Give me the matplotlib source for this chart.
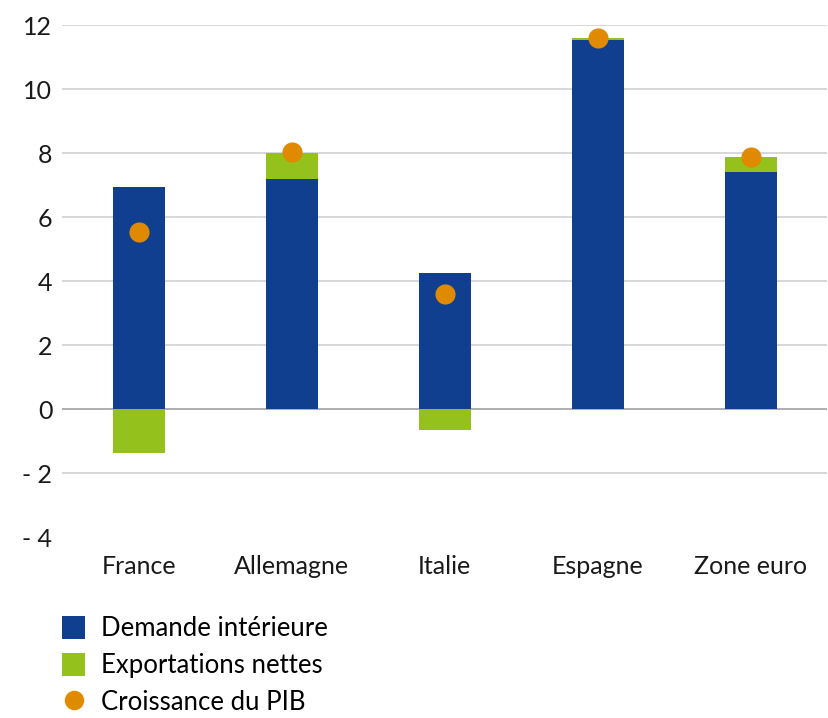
import matplotlib
matplotlib.use("Agg")
import matplotlib.pyplot as plt
from matplotlib.patches import Patch
from matplotlib.lines import Line2D

pays = ["France", "Allemagne", "Italie", "Espagne", "Zone euro"]
demande_interieure = [6.95, 7.2, 4.25, 11.52, 7.42]
exportations_nettes = [-1.38, 0.8, -0.66, 0.08, 0.46]
croissance_pib = [5.52, 8.02, 3.6, 11.6, 7.88]

yticks = [-4, -2, 0, 2, 4, 6, 8, 10, 12]

BLEU = "#103F8F"
VERT = "#95C11C"
ORANGE = "#E08A00"

plt.rcParams["font.family"] = ["Lato", "DejaVu Sans"]

fig = plt.figure(figsize=(8.29, 7.18), dpi=100)
ax = fig.add_axes([0.075, 0.252, 0.923, 0.713])

x = list(range(len(pays)))
w = 0.34
ax.bar(x, demande_interieure, width=w, color=BLEU, zorder=3)
bottoms = [d if e >= 0 else 0 for d, e in zip(demande_interieure, exportations_nettes)]
ax.bar(x, exportations_nettes, width=w, bottom=bottoms, color=VERT, zorder=3)
ax.scatter(x, croissance_pib, s=210, color=ORANGE, zorder=4, linewidths=0)

ax.set_xlim(-0.5, 4.5)
ax.set_ylim(-4, 12)
ax.set_yticks(yticks)
ax.set_yticklabels([f"- {abs(v)}" if v < 0 else str(v) for v in yticks])
ax.set_xticks(x)
ax.set_xticklabels(pays)

for v in yticks:
    if v == -4:
        continue
    ax.axhline(v, color="#A8A8A8" if v == 0 else "#D4D4D4", lw=1.3, zorder=1)

for s in ax.spines.values():
    s.set_visible(False)
ax.tick_params(axis="both", length=0, labelsize=18, colors="#1a1a1a")
ax.tick_params(axis="y", pad=7)
ax.tick_params(axis="x", pad=13)

handles = [
    Patch(facecolor=BLEU, edgecolor="none"),
    Patch(facecolor=VERT, edgecolor="none"),
    Line2D([], [], marker="o", ls="none", color=ORANGE, markersize=14, markeredgewidth=0),
]
labels = ["Demande intérieure", "Exportations nettes", "Croissance du PIB"]
fig.legend(handles, labels, loc="upper left", bbox_to_anchor=(0.075, 0.142),
           frameon=False, fontsize=18.5, handlelength=0.9, handleheight=1.0,
           handletextpad=0.6, labelspacing=0.45, borderaxespad=0, borderpad=0)

fig.savefig("out.png", dpi=100)
